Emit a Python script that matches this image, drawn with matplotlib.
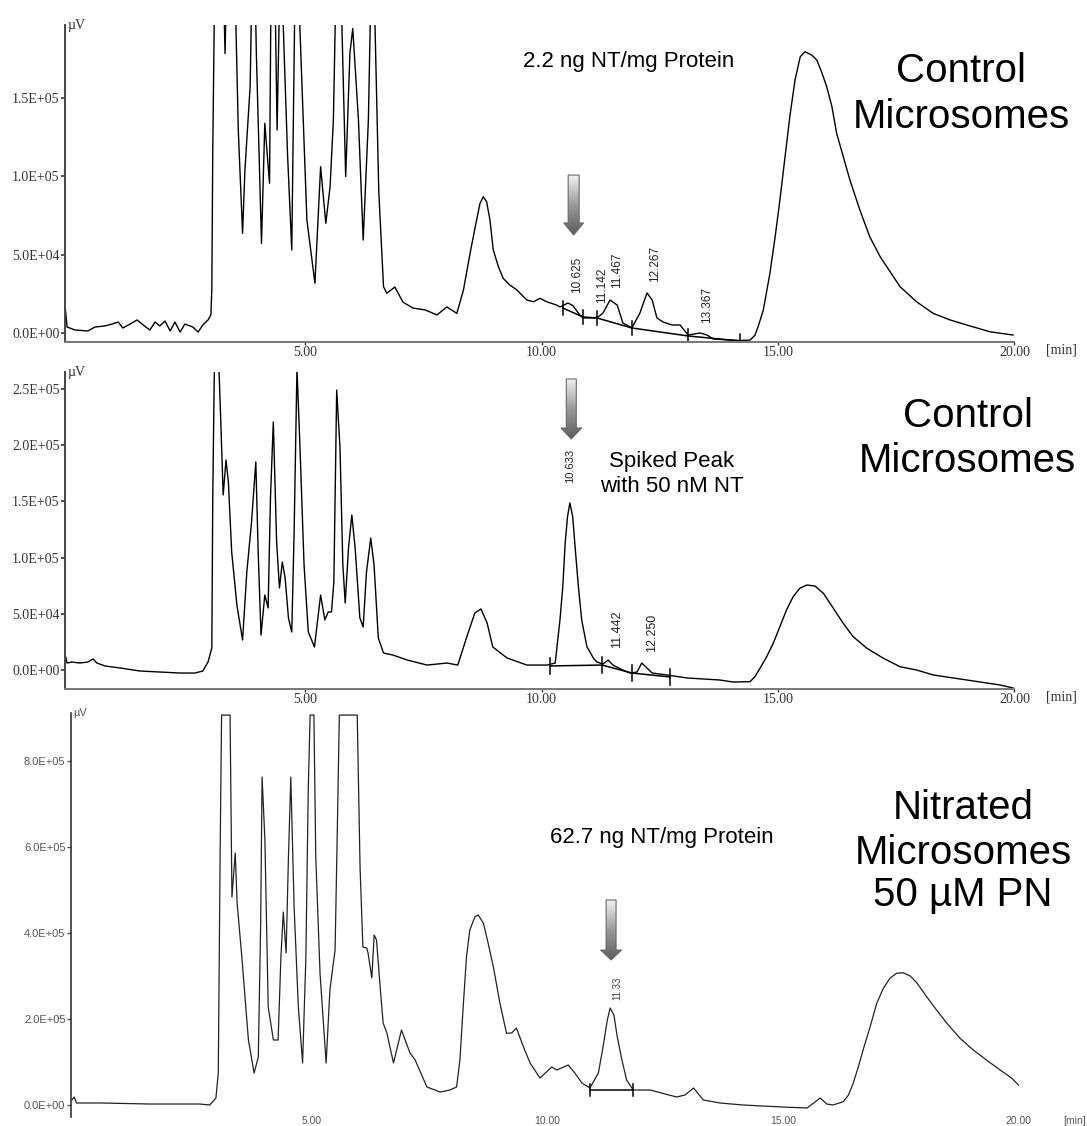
import numpy as np
import matplotlib
matplotlib.use("Agg")
import matplotlib.pyplot as plt
from matplotlib.patches import Polygon
from matplotlib.colors import LinearSegmentedColormap

plt.rcParams["font.family"] = ["Liberation Serif", "DejaVu Serif"]

# ---------------------------------------------------------------------------
# Chromatogram traces: (retention time in min, detector signal in µV)
# ---------------------------------------------------------------------------
control = [
    (-0.07, 16600), (-0.03, 3800), (0.14, 1900), (0.41, 1300), (0.56, 3800), (0.77, 4500),
    (0.92, 5700), (1.05, 7000), (1.15, 3200), (1.30, 5700), (1.45, 8300), (1.58, 5100),
    (1.72, 1900), (1.83, 7000), (1.93, 4500), (2.04, 7600), (2.15, 1300), (2.25, 7000),
    (2.36, 600), (2.46, 5700), (2.63, 3800), (2.74, 600), (2.84, 5100), (2.95, 8300),
    (3.01, 11500), (3.03, 27400), (3.05, 116600), (3.12, 300000), (3.27, 230000),
    (3.31, 178000), (3.35, 240000), (3.43, 320000), (3.54, 195000), (3.59, 129000),
    (3.68, 63500), (3.73, 103800), (3.84, 157000), (3.91, 280000), (3.97, 180000),
    (4.08, 57100), (4.15, 133600), (4.25, 95400), (4.31, 330000), (4.41, 129300),
    (4.49, 260000), (4.54, 196000), (4.63, 114500), (4.72, 52900), (4.83, 320000),
    (4.89, 196000), (5.04, 72000), (5.21, 31700), (5.33, 105900), (5.44, 69900),
    (5.53, 93200), (5.60, 135700), (5.68, 260000), (5.78, 196000), (5.86, 99600),
    (5.95, 178400), (6.01, 194000), (6.13, 135700), (6.23, 59200), (6.34, 135700),
    (6.42, 260000), (6.48, 196000), (6.56, 90000), (6.66, 29500), (6.73, 25300),
    (6.90, 29300), (7.07, 19700), (7.28, 15900), (7.54, 14700), (7.79, 11500),
    (8.00, 16600), (8.21, 12500), (8.35, 27400), (8.49, 50800), (8.60, 67700),
    (8.70, 82600), (8.77, 86800), (8.84, 83600), (8.91, 72000), (8.98, 52900),
    (9.09, 42200), (9.19, 34800), (9.33, 30600), (9.48, 27400), (9.69, 21000),
    (9.83, 19900), (9.97, 22100), (10.11, 19900), (10.32, 17800), (10.39, 16600),
    (10.56, 19100), (10.66, 17500), (10.81, 11500), (10.88, 9600), (11.17, 9600),
    (11.30, 12700), (11.45, 21000), (11.60, 17800), (11.72, 6400), (11.91, 3200),
    (12.08, 12700), (12.23, 25500), (12.34, 21000), (12.44, 9600), (12.57, 7000),
    (12.76, 5100), (12.93, 5100), (13.10, -1300), (13.35, 0), (13.50, -1300),
    (13.63, -3800), (14.20, -4800), (14.41, -4500), (14.51, -1500), (14.58, 4000),
    (14.69, 14700), (14.83, 38200), (14.94, 61300), (15.04, 84700), (15.15, 112300),
    (15.25, 137800), (15.36, 161200), (15.47, 176000), (15.57, 179200), (15.71, 177100),
    (15.82, 173900), (15.92, 166400), (16.03, 156900), (16.14, 144200), (16.24, 127200),
    (16.38, 112300), (16.52, 97500), (16.73, 78400), (16.94, 61300), (17.16, 48600),
    (17.37, 39000), (17.58, 29500), (17.93, 19900), (18.28, 12500), (18.64, 8300),
    (18.99, 5100), (19.48, 800), (19.97, -1300),
]

spiked = [
    (-0.07, 13300), (-0.03, 6200), (0.07, 7100), (0.24, 6200), (0.41, 7100), (0.52, 9800),
    (0.60, 6200), (0.77, 3600), (1.09, 1800), (1.51, -900), (1.93, -1800), (2.36, -2700),
    (2.67, -2700), (2.84, -900), (2.95, 7100), (3.03, 19600), (3.05, 153000),
    (3.08, 258000), (3.13, 330000), (3.22, 220600), (3.27, 155700), (3.33, 186800),
    (3.38, 167300), (3.45, 105000), (3.56, 57800), (3.68, 26700), (3.77, 87200),
    (3.87, 131700), (3.96, 185100), (4.01, 105000), (4.07, 31100), (4.15, 66700),
    (4.22, 55200), (4.27, 153000), (4.33, 220600), (4.40, 113900), (4.46, 73000),
    (4.52, 96100), (4.58, 81900), (4.65, 46300), (4.72, 33800), (4.77, 122800),
    (4.83, 268000), (4.89, 202900), (4.98, 93400), (5.07, 33800), (5.20, 20500),
    (5.28, 48900), (5.33, 66700), (5.42, 44500), (5.49, 51600), (5.56, 51600),
    (5.61, 78300), (5.67, 249000), (5.74, 197500), (5.80, 93400), (5.85, 59600),
    (5.92, 108500), (5.99, 137900), (6.06, 108500), (6.16, 46300), (6.23, 38300),
    (6.30, 87200), (6.39, 117400), (6.46, 93400), (6.55, 28500), (6.66, 15100),
    (6.86, 13300), (7.16, 8900), (7.58, 4400), (8.00, 6200), (8.23, 4400),
    (8.42, 29400), (8.59, 50700), (8.72, 54300), (8.85, 41800), (8.97, 20500),
    (9.27, 10700), (9.69, 4400), (10.12, 4400), (10.29, 6200), (10.39, 44500),
    (10.45, 74100), (10.50, 112700), (10.55, 136400), (10.60, 148600), (10.66, 136400),
    (10.71, 109700), (10.78, 74100), (10.85, 44500), (10.96, 20700), (11.10, 10400),
    (11.17, 7100), (11.30, 5300), (11.41, 8900), (11.51, 4400), (11.72, 0),
    (11.87, -2700), (12.02, -1800), (12.12, 6200), (12.23, 1800), (12.34, -2700),
    (12.65, -4400), (13.08, -7100), (13.77, -8900), (14.05, -10700), (14.41, -10400),
    (14.51, -6000), (14.62, 1500), (14.76, 11800), (14.90, 23800), (15.04, 38500),
    (15.18, 53400), (15.32, 65200), (15.46, 72700), (15.61, 75600), (15.78, 74700),
    (15.96, 68200), (16.17, 54900), (16.38, 41500), (16.59, 29600), (16.88, 19300),
    (17.23, 10400), (17.58, 2900), (17.93, 0), (18.28, -4400), (18.99, -8900),
    (19.69, -13300), (19.97, -16000),
]

nitrated = [
    (-0.10, 11600), (-0.05, 18600), (0.00, 4700), (0.50, 4700), (1.56, 2300), (2.62, 2300),
    (2.83, 0), (2.96, 16300), (3.01, 74400), (3.05, 593000), (3.08, 907000),
    (3.26, 907000), (3.30, 483800), (3.37, 586200), (3.41, 469900), (3.51, 344200),
    (3.65, 151200), (3.77, 74400), (3.86, 111600), (3.91, 423300), (3.94, 762900),
    (4.00, 616400), (4.07, 228000), (4.18, 151200), (4.28, 151200), (4.34, 344200),
    (4.39, 448900), (4.45, 353600), (4.50, 576800), (4.55, 762900), (4.62, 460500),
    (4.71, 228000), (4.80, 97700), (4.87, 344200), (4.92, 732700), (4.96, 907000),
    (5.04, 907000), (5.08, 576800), (5.17, 307000), (5.30, 97700), (5.38, 267500),
    (5.49, 360500), (5.54, 655900), (5.58, 907000), (5.96, 907000), (6.02, 553600),
    (6.08, 367500), (6.16, 365200), (6.19, 353600), (6.27, 295400), (6.32, 395400),
    (6.37, 383800), (6.44, 283800), (6.51, 190700), (6.59, 167500), (6.73, 97700),
    (6.90, 174500), (7.08, 121000), (7.19, 104700), (7.44, 41900), (7.72, 30200),
    (7.93, 34900), (8.07, 41900), (8.14, 104700), (8.21, 228600), (8.28, 344900),
    (8.35, 407000), (8.46, 438000), (8.53, 441900), (8.64, 422600), (8.74, 376100),
    (8.85, 321700), (8.99, 236600), (9.13, 166800), (9.24, 167500), (9.34, 179100),
    (9.49, 134900), (9.63, 97700), (9.84, 62800), (10.09, 88400), (10.20, 81400),
    (10.44, 93000), (10.58, 74400), (10.73, 51200), (10.90, 39500), (11.08, 74400),
    (11.18, 135600), (11.27, 197700), (11.33, 225600), (11.41, 209300), (11.48, 158900),
    (11.58, 104700), (11.68, 58200), (11.82, 34900), (12.18, 34900), (12.74, 18600),
    (12.92, 23300), (13.10, 39500), (13.31, 11600), (13.66, 4700), (14.15, 0),
    (15.00, -4700), (15.51, -7000), (15.79, 16300), (15.93, 2300), (16.06, 0),
    (16.28, 7700), (16.39, 23300), (16.49, 50500), (16.60, 89100), (16.70, 127900),
    (16.85, 182100), (16.99, 236600), (17.13, 271400), (17.27, 294700), (17.41, 306300),
    (17.55, 307700), (17.70, 300100), (17.84, 284500), (18.05, 251900), (18.26, 221000),
    (18.48, 190000), (18.76, 155100), (19.04, 127900), (19.32, 104700), (19.61, 81400),
    (19.86, 62100), (20.00, 46500),
]

# Integration baselines (drop points) drawn by the data system
control_base = [(10.45, 15900), (10.88, 10200), (11.17, 9600), (11.91, 3200),
                (13.10, -1900), (14.20, -5100)]
spiked_base = [(10.18, 3600), (11.28, 4400), (11.91, -2700), (12.72, -6200)]
nitrated_base = [(10.90, 34900), (11.82, 34900)]

# Retention-time labels
control_peaks = ["10.625", "11.142", "11.467", "12.267", "13.367"]
spiked_peaks = ["10.633", "11.442", "12.250"]
nitrated_peaks = ["11.33"]

# Axis ticks
control_yticks = [0, 50000, 100000, 150000]
spiked_yticks = [0, 50000, 100000, 150000, 200000, 250000]
nitrated_yticks = [0, 200000, 400000, 600000, 800000]
time_ticks = [5, 10, 15, 20]

# ---------------------------------------------------------------------------
W, H = 1087, 1126
fig = plt.figure(figsize=(W / 100, H / 100), dpi=100)


def box(left, top, right, bottom):
    return [left / W, 1 - bottom / H, (right - left) / W, (bottom - top) / H]


ax1 = fig.add_axes(box(65, 25, 1014.5, 342))
ax2 = fig.add_axes(box(65, 372, 1014.5, 689))
ax3 = fig.add_axes(box(71, 713, 1018.5, 1117))

limits = [
    (ax1, (-0.074, 20.0), (-5733, 196200)),
    (ax2, (-0.074, 20.0), (-16900, 265100)),
    (ax3, (-0.117, 20.0), (-27900, 911800)),
]


def split(pairs):
    t, v = zip(*pairs)
    return list(t), list(v)


ax1.plot(*split(control), color="black", lw=1.0, zorder=2)
ax2.plot(*split(spiked), color="black", lw=1.0, zorder=2)
ax3.plot(*split(nitrated), color="#222222", lw=0.9, zorder=2)

# integration baselines and drop marks
for ax, base, half in [(ax1, control_base, 4200),
                       (ax2, spiked_base, 7500),
                       (ax3, nitrated_base, 15000)]:
    bt, bv = split(base)
    ax.plot(bt, bv, color="black", lw=1.1, zorder=2)
    for t, v in base:
        ax.plot([t, t], [v - half, v + half], color="black", lw=1.1, zorder=2)

# axes styling
for ax, yt in [(ax1, control_yticks), (ax2, spiked_yticks)]:
    ax.set_yticks(yt)
    ax.set_yticklabels([f"{v:.1E}" for v in yt])
    ax.set_xticks(time_ticks)
    ax.set_xticklabels([f"{t:.2f}" for t in time_ticks])
    ax.tick_params(axis="y", direction="out", length=3, width=1.2, pad=1,
                   labelsize=10, colors="#333333")
    ax.tick_params(axis="x", direction="out", length=2, width=1, pad=1,
                   labelsize=10, colors="#333333")
    ax.spines["left"].set_color("#444444")
    ax.spines["left"].set_linewidth(1.4)
    ax.spines["bottom"].set_color("#777777")
    ax.spines["bottom"].set_linewidth(1.4)
    ax.text(0.003, 1.0, "µV", transform=ax.transAxes, ha="left", va="center",
            fontsize=10, color="#333333")

ax3.set_yticks(nitrated_yticks)
ax3.set_yticklabels([f"{v:.1E}" for v in nitrated_yticks])
ax3.set_xticks(time_ticks)
ax3.set_xticklabels([f"{t:.2f}" for t in time_ticks])
ax3.tick_params(axis="y", direction="out", length=3, width=1.0, pad=1,
                labelsize=8, colors="#555555", labelfontfamily="Liberation Sans")
ax3.tick_params(axis="x", length=0, pad=-1, labelsize=7.5, colors="#555555",
                labelfontfamily="Liberation Sans")
ax3.spines["left"].set_color("#333333")
ax3.spines["left"].set_linewidth(1.2)
ax3.spines["bottom"].set_visible(False)
ax3.text(0.002, 1.0, "µV", transform=ax3.transAxes, ha="left", va="center",
         fontsize=8, color="#555555", family="Liberation Sans")

for ax in (ax1, ax2, ax3):
    ax.spines["top"].set_visible(False)
    ax.spines["right"].set_visible(False)
    ax.patch.set_alpha(0)

# retention-time labels over the peaks
sans = ["Liberation Sans", "DejaVu Sans"]
for lab, dt, v in zip(control_peaks, [0.13, 0.14, 0.13, 0.13, 0.13],
                      [25500, 19100, 28700, 32500, 6400]):
    ax1.text(float(lab) + dt, v, lab, rotation=90, ha="center", va="bottom",
             fontsize=8.5, family=sans, color="#222222")
for lab, dt, v, fs in zip(spiked_peaks, [-0.03, 0.16, 0.09], [166400, 19600, 16000],
                          [8, 9, 9]):
    ax2.text(float(lab) + dt, v, lab, rotation=90, ha="center", va="bottom",
             fontsize=fs, family=sans, color="#222222")
ax3.text(float(nitrated_peaks[0]) + 0.15, 244200, nitrated_peaks[0], rotation=90,
         ha="center", va="bottom", fontsize=7, family=sans, color="#444444")

# gradient arrows pointing at the nitrotyrosine peak
arrow_cmap = LinearSegmentedColormap.from_list("arrow", ["#5c5c5c", "#9a9a9a", "#f2f2f2"])
grad = np.linspace(0, 1, 256).reshape(-1, 1)


def gradient_arrow(ax, t, v_tip, v_head, v_top, shaft_hw, head_hw):
    verts = [(t - shaft_hw, v_top), (t + shaft_hw, v_top), (t + shaft_hw, v_head),
             (t + head_hw, v_head), (t, v_tip), (t - head_hw, v_head),
             (t - shaft_hw, v_head)]
    poly = Polygon(verts, closed=True, facecolor="none", edgecolor="#6a6a6a",
                   lw=0.8, zorder=4)
    ax.add_patch(poly)
    im = ax.imshow(grad, extent=[t - head_hw, t + head_hw, v_tip, v_top],
                   origin="lower", cmap=arrow_cmap, aspect="auto", zorder=3,
                   interpolation="bilinear")
    im.set_clip_path(poly)


gradient_arrow(ax1, 10.68, 62400, 70100, 100600, 0.116, 0.21)
gradient_arrow(ax2, 10.63, 205500, 215300, 258900, 0.106, 0.22)
gradient_arrow(ax3, 11.35, 337300, 360500, 476800, 0.106, 0.223)

for ax, xl, yl in limits:
    ax.set_xlim(*xl)
    ax.set_ylim(*yl)

# time unit labels
fig.text(1061 / W, 1 - 350 / H, "[min]", ha="center", va="center", fontsize=10,
         color="#333333")
fig.text(1061 / W, 1 - 697 / H, "[min]", ha="center", va="center", fontsize=10,
         color="#333333")
fig.text(1075 / W, 1 - 1121 / H, "[min]", ha="center", va="center", fontsize=7.5,
         color="#555555", family=sans)

# sample descriptions
big = dict(ha="center", va="baseline", fontsize=29, family=sans, color="black")
fig.text(961 / W, 1 - 82 / H, "Control", **big)
fig.text(961 / W, 1 - 128 / H, "Microsomes", **big)
fig.text(968 / W, 1 - 427 / H, "Control", **big)
fig.text(967 / W, 1 - 472 / H, "Microsomes", **big)
fig.text(963 / W, 1 - 819 / H, "Nitrated", **big)
fig.text(963 / W, 1 - 864 / H, "Microsomes", **big)
fig.text(963 / W, 1 - 906 / H, "50 µM PN", **big)

small = dict(va="baseline", fontsize=16, family=sans, color="black")
fig.text(523 / W, 1 - 67 / H, "2.2 ng NT/mg Protein", ha="left", **small)
fig.text(672 / W, 1 - 467 / H, "Spiked Peak", ha="center", **small)
fig.text(672 / W, 1 - 492 / H, "with 50 nM NT", ha="center", **small)
fig.text(550 / W, 1 - 843 / H, "62.7 ng NT/mg Protein", ha="left", **small)

fig.savefig("out.png", dpi=100, facecolor="white")
